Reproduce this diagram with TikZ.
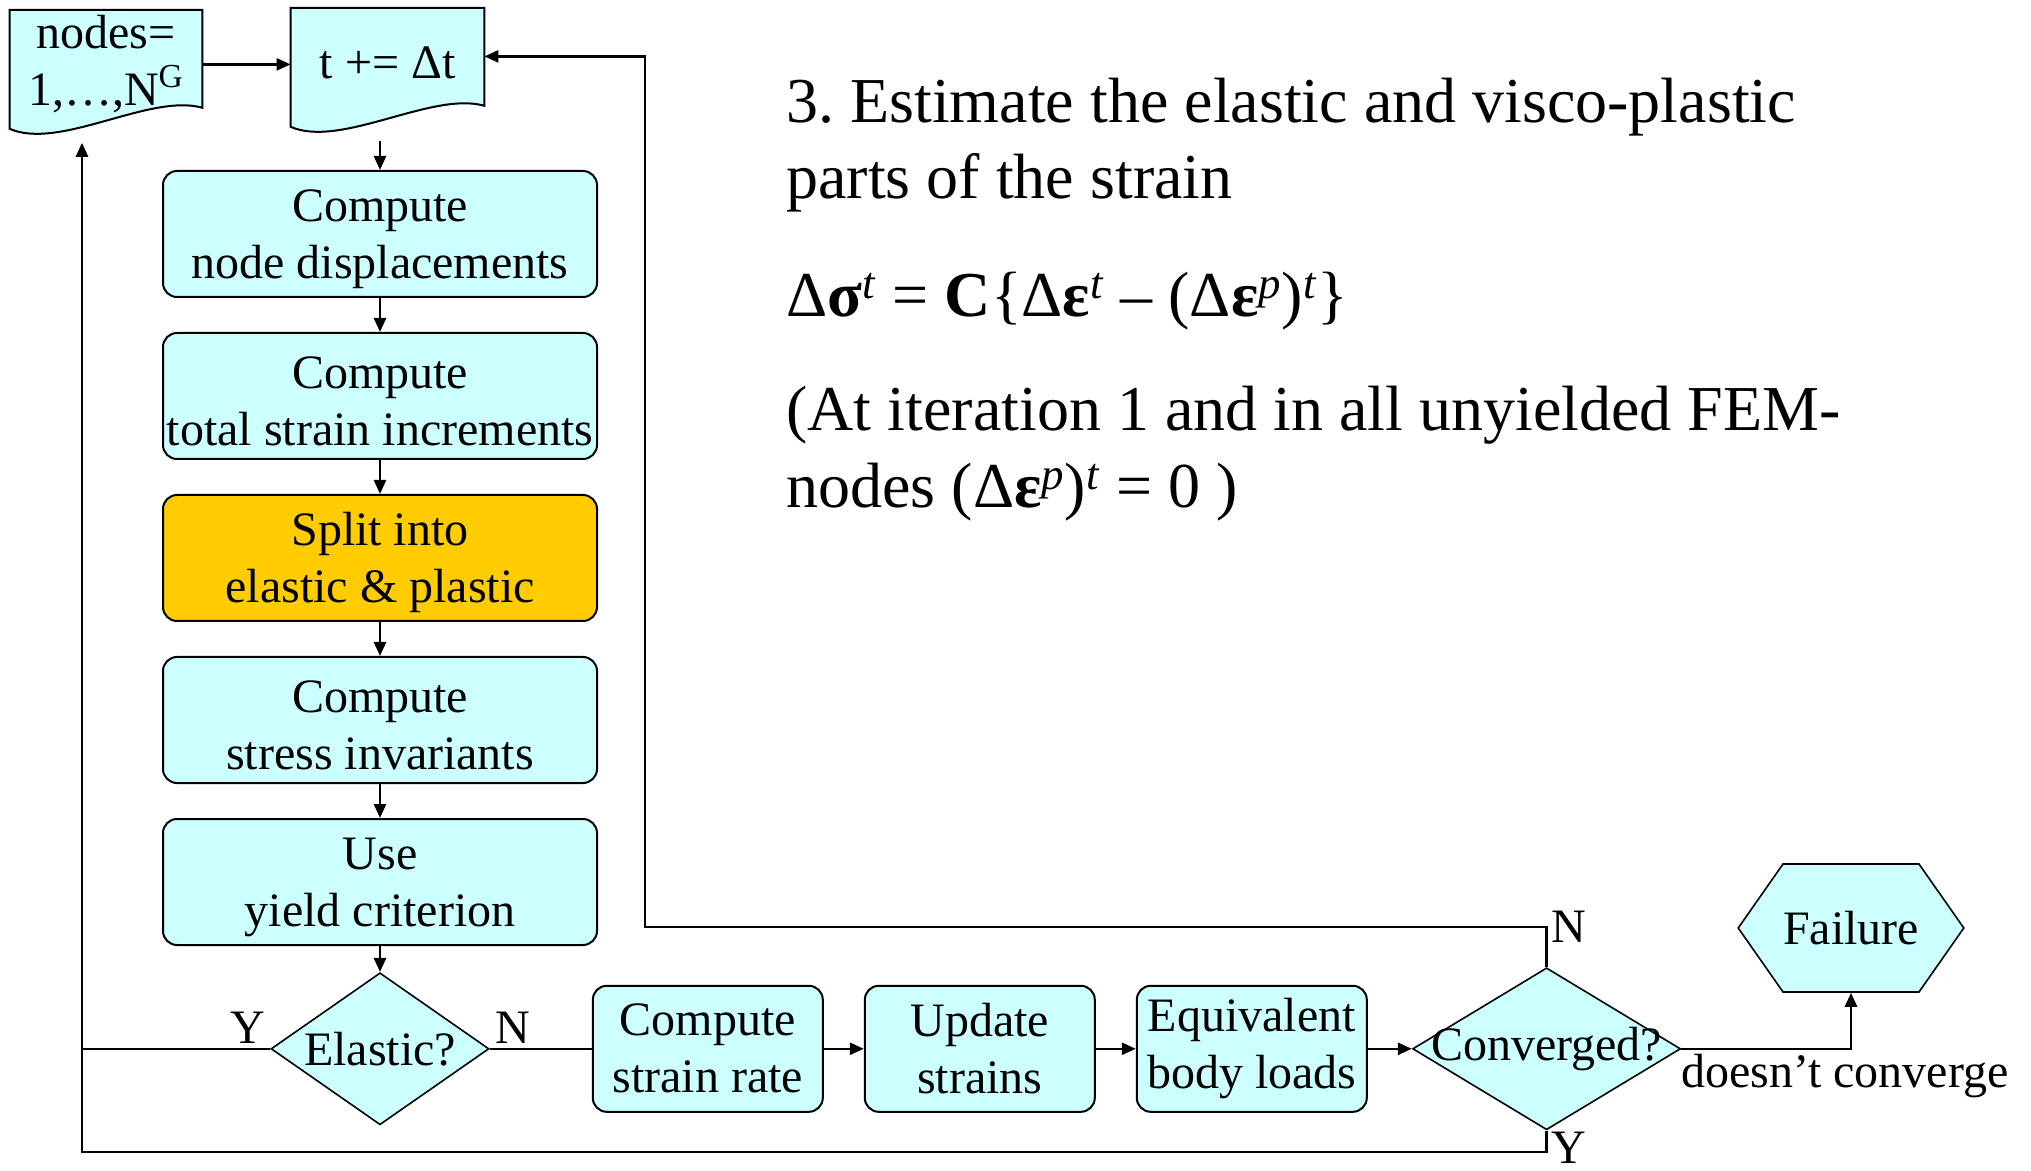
\documentclass[tikz,border=0pt]{standalone}
\usepackage{fontspec}
\setmainfont{Liberation Serif}
\usetikzlibrary{shapes.geometric,shapes.symbols,positioning,arrows.meta,backgrounds}

\definecolor{boxcyan}{HTML}{CCFFFF}
\definecolor{boxgold}{HTML}{FFCC00}

% document symbol with a wavy lower edge, drawn round a named node
\newcommand{\docoutline}[1]{%
  \draw[line width=1pt,fill=boxcyan] (#1.north west) -- (#1.north east)
    -- ([yshift=5.5pt]#1.south east)
    .. controls ([xshift=-26pt,yshift=13pt]#1.south east) and ([xshift=25pt,yshift=-16pt]#1.south west) .. ([yshift=-5pt]#1.south west)
    -- cycle;}

\frenchspacing
\begin{document}
\begin{tikzpicture}[
  x=0.5pt,y=-0.5pt,
  >={Triangle[length=7pt,width=6pt]},
  node distance=17pt,
  font=\fontsize{24}{28.5}\selectfont,
  flow/.style={->,line width=1.3pt},
  link/.style={line width=1.3pt},
  task/.style={draw,rounded corners=7pt,fill=boxcyan,line width=1pt,
    minimum width=217pt,minimum height=63pt,inner sep=0pt,align=center},
  coltask/.style={task,text height=50pt},
  smalltask/.style={task,minimum width=115pt,minimum height=63pt},
  decision/.style={diamond,draw,fill=boxcyan,line width=0.8pt,inner sep=0pt},
  doc/.style={minimum width=96pt,minimum height=54pt,inner sep=0pt,align=center},
  fail/.style={signal,signal to=west and east,signal pointer angle=110,draw,
    fill=boxcyan,line width=0.8pt,minimum width=111pt,minimum height=64pt,inner sep=0pt},
  note/.style={anchor=base west,inner sep=0pt,font=\fontsize{32}{38}\selectfont},
  tag/.style={inner sep=2pt}
]
  \useasboundingbox (0,0) rectangle (2031,1171);

  % loop counters
  \node[doc,anchor=north] (nodes) at (106,10) {nodes=\\1,…,N\textsuperscript{G}};
  \node[doc,anchor=north,minimum width=96.5pt] (tstep) at (387.5,8) {t += Δt};
  \begin{pgfonlayer}{background}
    \docoutline{nodes}
    \docoutline{tstep}
  \end{pgfonlayer}

  % main column
  \node[coltask] (disp) at (380,234) {Compute\\node displacements};
  \node[coltask,below=of disp] (strain) {Compute\\total strain increments};
  \node[coltask,fill=boxgold,below=of strain] (split) {Split into\\elastic \& plastic};
  \node[coltask,below=of split] (invar) {Compute\\stress invariants};
  \node[coltask,below=of invar] (yield) {Use\\yield criterion};
  \node[decision,minimum width=109pt,minimum height=76pt,below=13pt of yield] (elastic) {\makebox[0pt]{Elastic?}};

  % bottom row
  \node[smalltask,right=51pt of elastic] (rate) {Compute\\strain rate};
  \node[smalltask,right=20pt of rate] (update) {Update\\strains};
  \node[smalltask,right=20pt of update] (loads) {Equivalent\\body loads};
  \node[decision,minimum width=134pt,minimum height=81pt,right=22pt of loads] (conv) {\makebox[0pt]{Converged?}};
  \node[fail] (failure) at (1851,928) {Failure};

  \coordinate (ytip) at ([yshift=-12pt]nodes.south);
  \coordinate (tbelow) at ([yshift=-12pt]tstep.south);
  \coordinate (tin) at ([yshift=3pt]tstep.east);
  \coordinate (yloop) at (82,1152);
  \coordinate (nloop) at (645,927);

  \draw[flow] (nodes.east) -- (nodes.east -| tstep.west);
  \draw[flow] (tbelow -| disp.north) -- (disp.north);
  \foreach \a/\b in {disp/strain,strain/split,split/invar,invar/yield,yield/elastic}
    \draw[flow] (\a) -- (\b);
  \draw[link] (elastic) -- node[tag,pos=0,above right] {N} (rate);
  \draw[link] (elastic.west) -- node[tag,pos=0,above left] {Y} (elastic.west -| yloop);
  \foreach \a/\b in {rate/update,update/loads,loads/conv}
    \draw[flow] (\a) -- (\b);
  \draw[flow] (conv.north) |- node[tag,pos=.5,right] {N} (nloop) |- (tin);
  \draw[flow] (conv.south) |- node[tag,pos=.5,right,yshift=2pt] {Y} (yloop) -- (yloop |- ytip);
  \draw[flow] (conv.east) -| node[tag,pos=.5,below,xshift=-3pt] {doesn't converge} (failure.south);

  % explanation
  \node[note] (title1) at (786,123) {3. Estimate the elastic and visco-plastic};
  \node[note] (title2) at (786,199) {parts of the strain};
  \node[note] (formula) at (786,317) {Δ\textbf{σ}\textsuperscript{\textit{t}} = \textbf{C}\{Δ\textbf{ε}\textsuperscript{\textit{t}} – (Δ\textbf{ε}\textsuperscript{\textit{p}})\textsuperscript{\textit{t}}\}};
  \node[note] (remark1) at (786,431) {(At iteration 1 and in all unyielded FEM-};
  \node[note] (remark2) at (786,508) {nodes (Δ\textbf{ε}\textsuperscript{\textit{p}})\textsuperscript{\textit{t}} = 0 )};
\end{tikzpicture}
\end{document}
